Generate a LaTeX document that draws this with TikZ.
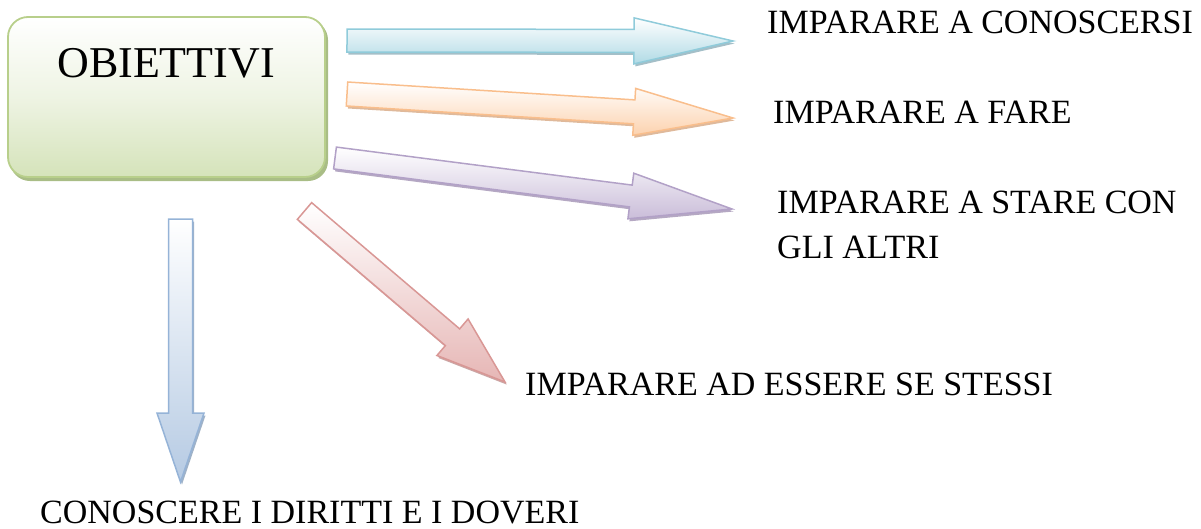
\documentclass[tikz,border=0pt]{standalone}
\usepackage{fontspec}
\setmainfont{Liberation Serif}
\usetikzlibrary{calc}
\definecolor{bxB}{HTML}{B8CF8B}\definecolor{bxF}{HTML}{D5E3BA}\definecolor{bxS}{HTML}{A9BD86}
\definecolor{aqB}{HTML}{8FCBDA}\definecolor{aqF}{HTML}{B0DAE5}\definecolor{aqS}{HTML}{86A9B5}
\definecolor{orB}{HTML}{F9BE8C}\definecolor{orF}{HTML}{FCD2AE}\definecolor{orS}{HTML}{D4A27A}
\definecolor{puB}{HTML}{B2A1C7}\definecolor{puF}{HTML}{CABDD9}\definecolor{puS}{HTML}{9C8BAF}
\definecolor{reB}{HTML}{D99795}\definecolor{reF}{HTML}{E6B6B5}\definecolor{reS}{HTML}{B98A89}
\definecolor{blB}{HTML}{95B3D7}\definecolor{blF}{HTML}{B5CAE3}\definecolor{blS}{HTML}{7F98B5}
\tikzset{
  lbl/.style={anchor=base west, inner sep=0pt, font=\fontsize{34}{45}\selectfont, align=left},
}
% #1 start, #2 end, #3 half shaft, #4 half head, #5 head length, #6 border, #7 fill, #8 shadow
\newcommand\blockarrow[8]{%
  \coordinate (t1) at ($(#1)!#3!90:(#2)$);
  \coordinate (t2) at ($(#1)!#3!-90:(#2)$);
  \coordinate (bb) at ($(#2)!#5!(#1)$);
  \coordinate (s1) at ($(bb)!#3!90:(#2)$);
  \coordinate (s2) at ($(bb)!#3!-90:(#2)$);
  \coordinate (h1) at ($(bb)!#4!90:(#2)$);
  \coordinate (h2) at ($(bb)!#4!-90:(#2)$);
  \fill[#8, opacity=0.75] ([xshift=1.5pt,yshift=-2.5pt]t1) -- ([xshift=1.5pt,yshift=-2.5pt]s1) -- ([xshift=1.5pt,yshift=-2.5pt]h1) -- ([xshift=1.5pt,yshift=-2.5pt]#2) -- ([xshift=1.5pt,yshift=-2.5pt]h2) -- ([xshift=1.5pt,yshift=-2.5pt]s2) -- ([xshift=1.5pt,yshift=-2.5pt]t2) -- cycle;
  \draw[#6, line width=1.5pt, line join=miter, top color=white, bottom color=#7] (t1) -- (s1) -- (h1) -- (#2) -- (h2) -- (s2) -- (t2) -- cycle;
}
\begin{document}
\begin{tikzpicture}[x=1pt,y=-1pt]
\useasboundingbox (0,0) rectangle (1201,528);
% box
\fill[bxS, rounded corners=20pt] (10,20) rectangle (328,181);
\draw[bxB, line width=1.8pt, rounded corners=20pt, top color=white, bottom color=bxF, middle color=bxF!40] (8,17) rectangle (325,177);
\node[anchor=base, inner sep=0pt, font=\fontsize{44}{50}\selectfont] (obj) at (166,77) {OBIETTIVI};
% arrow end points
\coordinate (a1s) at (347,40.5); \coordinate (a1e) at (733,41);
\coordinate (a2s) at (347,94);   \coordinate (a2e) at (733,118);
\coordinate (a3s) at (335,158);  \coordinate (a3e) at (732,209);
\coordinate (a4s) at (304.5,211);\coordinate (a4e) at (505,382);
\coordinate (a5s) at (180.5,219);\coordinate (a5e) at (180.5,482);
\blockarrow{a1s}{a1e}{11.5pt}{23pt}{99pt}{aqB}{aqF}{aqS}
\blockarrow{a2s}{a2e}{12pt}{23.5pt}{99pt}{orB}{orF}{orS}
\blockarrow{a3s}{a3e}{11pt}{23pt}{102pt}{puB}{puF}{puS}
\blockarrow{a4s}{a4e}{11pt}{24pt}{69pt}{reB}{reF}{reS}
\blockarrow{a5s}{a5e}{12pt}{23.5pt}{69pt}{blB}{blF}{blS}
% labels
\node[lbl] (l1) at (767,33.5) {IMPARARE A CONOSCERSI};
\node[lbl] (l2) at (773,123) {IMPARARE A FARE};
\node[lbl] (l3) at (777,258) {IMPARARE A STARE CON\\GLI ALTRI};
\node[lbl] (l4) at (525,395) {IMPARARE AD ESSERE SE STESSI};
\node[lbl] (l5) at (40,523) {CONOSCERE I DIRITTI E I DOVERI};
\end{tikzpicture}
\end{document}
